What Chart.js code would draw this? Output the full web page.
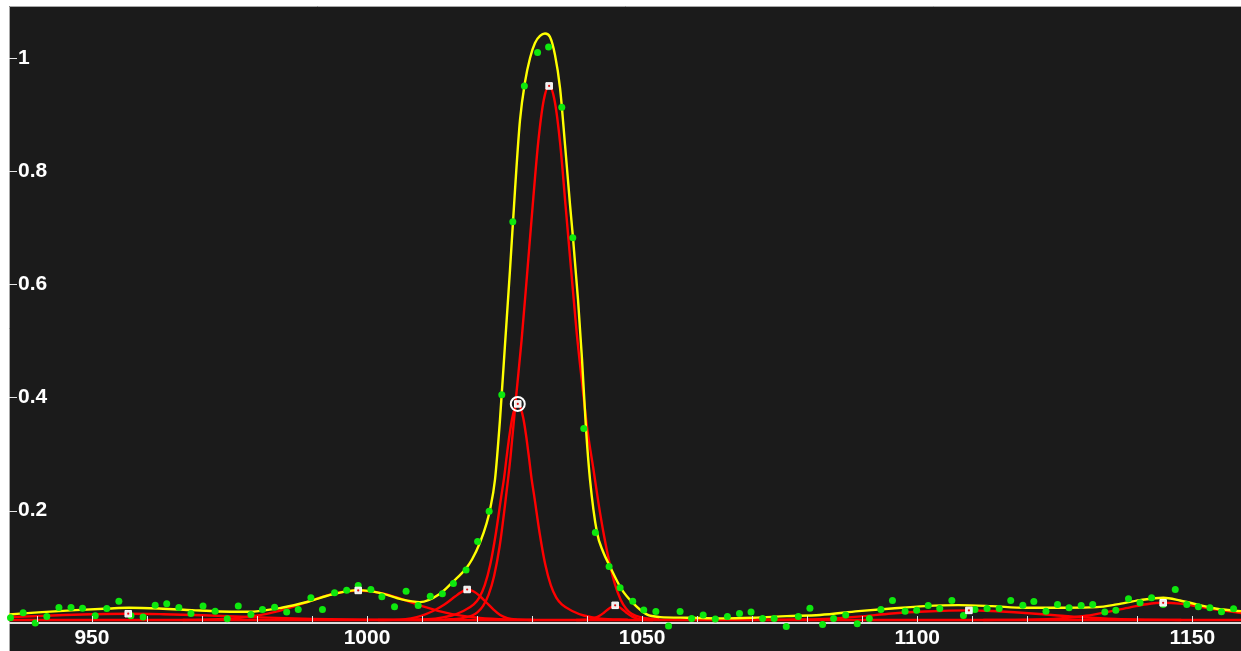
<!DOCTYPE html>
<html><head><meta charset="utf-8">
<script src="https://cdn.jsdelivr.net/npm/chart.js@4.4.1/dist/chart.umd.min.js"></script>
<style>
html,body{margin:0;padding:0;background:#fff;overflow:hidden;}
#wrap{position:relative;width:1241px;height:651px;}
</style></head><body>
<div id="wrap"><canvas id="c" width="1241" height="651"></canvas></div>
<script>
// ---- axis ticks ----
const xTickValues = [950, 1000, 1050, 1100, 1150];
const yTickValues = [0.2, 0.4, 0.6, 0.8, 1];

// ---- measured data points (green) ----
const dotX = [935.2,937.5,939.7,941.8,944.0,946.2,948.3,950.6,952.7,954.9,
957.1,959.3,961.5,963.6,965.8,968.0,970.2,972.4,974.6,976.6,
978.9,981.0,983.2,985.4,987.5,989.8,991.9,994.1,996.3,998.4,
1000.7,1002.7,1005.0,1007.1,1009.3,1011.5,1013.7,1015.7,1018.0,1020.1,
1022.2,1024.5,1026.5,1028.6,1031.0,1033.0,1035.4,1037.4,1039.4,1041.5,
1044.0,1046.0,1048.3,1050.3,1052.5,1054.8,1056.9,1059.0,1061.1,1063.3,
1065.5,1067.7,1069.8,1071.9,1074.0,1076.2,1078.4,1080.5,1082.8,1084.8,
1087.0,1089.1,1091.3,1093.4,1095.5,1097.8,1099.9,1102.0,1104.1,1106.3,
1108.4,1110.5,1112.7,1114.9,1117.0,1119.2,1121.2,1123.4,1125.5,1127.6,
1129.8,1131.9,1134.1,1136.1,1138.4,1140.5,1142.6,1144.7,1146.9,1149.0,
1151.1,1153.2,1155.3,1157.5];
const dotY = [0.0106,0.0194,0.0014,0.0129,0.0288,0.0288,0.0275,0.0141,0.0270,0.0399,
0.0141,0.0120,0.0328,0.0353,0.0288,0.0182,0.0311,0.0222,0.0090,0.0311,
0.0164,0.0253,0.0293,0.0208,0.0253,0.0459,0.0253,0.0547,0.0593,0.0676,
0.0606,0.0477,0.0300,0.0576,0.0323,0.0487,0.0530,0.0712,0.0950,0.1453,
0.1988,0.4049,0.7104,0.9506,1.0097,1.0194,0.9129,0.6821,0.3449,0.1612,
0.1012,0.0636,0.0399,0.0244,0.0217,-0.0039,0.0217,0.0094,0.0152,0.0085,
0.0129,0.0182,0.0208,0.0094,0.0094,-0.0048,0.0129,0.0275,-0.0012,0.0094,
0.0152,0.0000,0.0094,0.0253,0.0411,0.0222,0.0240,0.0323,0.0270,0.0411,
0.0147,0.0253,0.0270,0.0270,0.0411,0.0328,0.0394,0.0222,0.0341,0.0283,
0.0323,0.0341,0.0205,0.0240,0.0441,0.0371,0.0459,0.0341,0.0606,0.0341,
0.0300,0.0283,0.0212,0.0265];

// ---- total fit (yellow) ----
const fitTotal = [[934.93,0.0164],[940.93,0.0205],[947.06,0.0240],[953.11,0.0270],[956.74,0.0283],[962.2,0.0270],[968.19,0.0240],[973.1,0.0217],[978.37,0.0212],[984.5,0.0283],[989.28,0.0388],[993.58,0.0517],[998.42,0.0593],[1002.67,0.0535],[1006.31,0.0429],[1009.63,0.0381],[1013.27,0.0530],[1015.69,0.0747],[1017.99,0.0977],[1019.08,0.1135],[1020.54,0.1436],[1021.76,0.1783],[1022.36,0.2018],[1023.26,0.2548],[1024.17,0.3608],[1025.08,0.4932],[1025.99,0.6256],[1026.9,0.7669],[1027.81,0.8905],[1028.72,0.9576],[1029.63,1.0000],[1030.53,1.0265],[1031.44,1.0389],[1032.35,1.0433],[1033.26,1.0371],[1034.17,1.0053],[1035.08,0.9471],[1035.99,0.8464],[1036.9,0.7404],[1037.44,0.6821],[1038.35,0.5727],[1039.08,0.4667],[1039.8,0.3449],[1040.53,0.2548],[1041.8,0.1612],[1042.89,0.1277],[1044.16,0.1012],[1046.29,0.0606],[1048.4,0.0358],[1050.84,0.0164],[1053.25,0.0117],[1058.11,0.0106],[1064.16,0.0094],[1070.21,0.0106],[1076.28,0.0134],[1082.33,0.0155],[1089.3,0.0222],[1095.37,0.0270],[1101.42,0.0311],[1107.47,0.0328],[1113.54,0.0311],[1119.59,0.0283],[1126.55,0.0283],[1132.62,0.0293],[1136.26,0.0341],[1140.49,0.0417],[1144.73,0.0459],[1147.76,0.0411],[1150.8,0.0341],[1154.43,0.0265],[1158.85,0.0222]];

// ---- fitted components (red) ----
const baseLine = [[934.9,0.0065],[1158.9,0.0065]];
const peak957 = [[934.9,0.0117],[940,0.0135],[945,0.0153],[950,0.0167],[956.6,0.0177],[963,0.0168],[970,0.0150],[976,0.0130],[982,0.0107],[990,0.0085],[1000,0.0071],[1010,0.0066]];
const peak998 = [[966.5,0.0066],[971.5,0.0074],[976.5,0.0101],[980.5,0.0151],[983.5,0.0214],[986.5,0.0299],[989.5,0.0397],[992.5,0.0491],[995.5,0.0560],[998.4,0.0588],[1001.5,0.0560],[1004.5,0.0491],[1007.5,0.0397],[1010.5,0.0299],[1013.5,0.0214],[1016.5,0.0151],[1020.5,0.0101],[1025.5,0.0074],[1030.5,0.0066]];
const peak1018 = [[1002,0.0066],[1006,0.0072],[1008,0.0095],[1010,0.0145],[1012,0.0225],[1014,0.0335],[1016,0.0480],[1017,0.0550],[1018.2,0.0605],[1019.4,0.0570],[1020.5,0.0490],[1021.7,0.0375],[1023,0.0250],[1024.2,0.0155],[1025.5,0.0100],[1027,0.0075],[1030,0.0066]];
const peak1027 = [[1007.4,0.0070],[1012.4,0.0090],[1015.4,0.0145],[1017.4,0.0220],[1019.4,0.0340],[1020.4,0.0460],[1021.4,0.0680],[1022.4,0.1045],[1023.4,0.1585],[1024.4,0.2250],[1024.9,0.2570],[1025.4,0.2965],[1025.9,0.3335],[1026.4,0.3635],[1026.9,0.3820],[1027.4,0.3885],[1027.9,0.3820],[1028.4,0.3635],[1028.9,0.3335],[1029.4,0.2965],[1029.9,0.2570],[1030.4,0.2250],[1031.4,0.1585],[1032.4,0.1045],[1033.4,0.0680],[1034.4,0.0460],[1035.4,0.0340],[1037.4,0.0220],[1039.4,0.0145],[1042.4,0.0090],[1047.4,0.0070]];
const peak1033 = [[1014.1,0.0075],[1017.1,0.0095],[1019.1,0.0145],[1020.1,0.0205],[1021.1,0.0315],[1022.1,0.0515],[1023.1,0.0845],[1024.1,0.1365],[1025.1,0.2115],[1026.1,0.2965],[1027.1,0.4015],[1028.1,0.5015],[1029.1,0.6185],[1030.1,0.7375],[1031.1,0.8495],[1032.1,0.9245],[1033.1,0.9505],[1034.1,0.9245],[1035.1,0.8495],[1036.1,0.7375],[1037.1,0.6255],[1038.1,0.5155],[1039.1,0.4245],[1040.1,0.3395],[1041.1,0.2765],[1042.1,0.2115],[1043.1,0.1545],[1044.1,0.1065],[1045.1,0.0685],[1046.1,0.0425],[1047.1,0.0265],[1048.1,0.0175],[1050.1,0.0105],[1053.1,0.0075]];
const peak1045 = [[1038,0.0066],[1040.5,0.0075],[1042,0.0125],[1043,0.0190],[1044,0.0270],[1045.1,0.0325],[1046.2,0.0270],[1047.2,0.0190],[1048.2,0.0125],[1049.7,0.0075],[1052,0.0066]];
const peak1109 = [[1070,0.0068],[1076,0.0072],[1083.2,0.0085],[1089.3,0.0125],[1095.4,0.0180],[1101.4,0.0215],[1109.4,0.0235],[1113.5,0.0225],[1119.6,0.0190],[1125,0.0150],[1130,0.0115],[1136,0.0085],[1142,0.0072],[1148,0.0066]];
const peak1145 = [[1112,0.0066],[1120,0.0072],[1126,0.0095],[1130.7,0.0140],[1134.7,0.0210],[1138.7,0.0290],[1141.7,0.0345],[1144.7,0.0370],[1147.7,0.0355],[1150.8,0.0310],[1154.4,0.0250],[1158.9,0.0190]];

// ---- peak markers ----
const peakCenters = [956.6, 998.4, 1018.2, 1027.4, 1033.1, 1045.1, 1109.4, 1144.7];
const peakHeights = [0.0177, 0.0588, 0.0605, 0.3885, 0.9505, 0.0325, 0.0235, 0.0370];
const selectedPeak = 3;

const components = [baseLine, peak957, peak998, peak1018, peak1027, peak1033, peak1045, peak1109, peak1145];

const toPts = arr => arr.map(p => ({x: p[0], y: p[1]}));
const FONT = {family: '"Liberation Sans", Arial, sans-serif', size: 21, weight: 'bold'};
const markerPts = peakCenters.map((x, i) => ({x, y: peakHeights[i]}));

const datasets = [];
datasets.push({type: 'scatter', data: markerPts,
  pointStyle: 'circle', pointRadius: 1.1, backgroundColor: '#e01010', borderWidth: 0, order: 0});
datasets.push({type: 'scatter', data: markerPts,
  pointStyle: 'rect', pointRadius: 4.6, backgroundColor: '#eeeeee', borderColor: '#ffffff', borderWidth: 1, order: 1});
datasets.push({type: 'scatter', data: [markerPts[selectedPeak]],
  pointStyle: 'circle', pointRadius: 7, backgroundColor: 'rgba(0,0,0,0)', borderColor: '#ffffff', borderWidth: 2, order: 2});
datasets.push({type: 'scatter', data: dotX.map((x, i) => ({x, y: dotY[i]})),
  pointRadius: 3.5, backgroundColor: '#0ee80e', borderWidth: 0, clip: false, order: 3});
datasets.push({type: 'line', data: toPts(fitTotal), borderColor: '#ffff00', borderWidth: 2.4,
  pointRadius: 0, cubicInterpolationMode: 'monotone', fill: false, order: 4});
components.forEach(c => datasets.push({type: 'line', data: toPts(c), borderColor: '#ff0000', borderWidth: 2.4,
  pointRadius: 0, cubicInterpolationMode: 'monotone', fill: false, order: 5}));

const deco = {
  id: 'deco',
  beforeDraw(chart) {
    const ctx = chart.ctx;
    ctx.save();
    ctx.fillStyle = '#ffffff';
    ctx.fillRect(0, 0, chart.width, chart.height);
    ctx.fillStyle = '#1b1b1b';
    ctx.fillRect(9, 6, chart.width - 9, chart.height - 6);
    ctx.strokeStyle = '#a8a8a8';
    ctx.lineWidth = 1;
    ctx.beginPath();
    ctx.moveTo(9.5, chart.height); ctx.lineTo(9.5, 6.5); ctx.lineTo(chart.width, 6.5);
    ctx.stroke();
    ctx.restore();
  },
  beforeDatasetsDraw(chart) {
    const ctx = chart.ctx, a = chart.chartArea;
    ctx.save();
    ctx.fillStyle = '#dcdcdc';
    ctx.fillRect(a.left, a.bottom - 2, a.right - a.left, 2);
    ctx.restore();
  },
  afterDatasetsDraw(chart) {
    const ctx = chart.ctx, a = chart.chartArea;
    const xs = chart.scales.x, ys = chart.scales.y;
    ctx.save();
    ctx.strokeStyle = '#e8e8e8';
    ctx.lineWidth = 1;
    ctx.beginPath();
    for (let v = 940; v <= 1150; v += 10) {
      const px = Math.round(xs.getPixelForValue(v)) + 0.5;
      ctx.moveTo(px, a.bottom - 8); ctx.lineTo(px, a.bottom - 2);
    }
    yTickValues.forEach(v => {
      const py = Math.round(ys.getPixelForValue(v)) + 0.5;
      ctx.moveTo(a.left, py); ctx.lineTo(a.left + 8, py);
    });
    ctx.stroke();
    ctx.restore();
  }
};

const zeroPad = s => { s.paddingTop = 0; s.paddingBottom = 0; s.paddingLeft = 0; s.paddingRight = 0; };

new Chart(document.getElementById('c'), {
  data: {datasets},
  plugins: [deco],
  options: {
    responsive: false,
    animation: false,
    events: [],
    devicePixelRatio: 1,
    layout: {autoPadding: false, padding: {left: 9, top: 6, right: 0, bottom: 0}},
    plugins: {legend: {display: false}, tooltip: {enabled: false}},
    scales: {
      x: {
        type: 'linear', position: 'bottom', min: 934.93, max: 1158.85,
        grid: {display: false, drawTicks: false}, border: {display: false},
        afterBuildTicks: s => { s.ticks = xTickValues.map(v => ({value: v})); },
        afterFit: s => { s.height = 27; zeroPad(s); },
        ticks: {color: '#ffffff', font: FONT, padding: 2, maxRotation: 0, autoSkip: false, callback: v => String(v)}
      },
      y: {
        type: 'linear', position: 'left', min: -0.0005, max: 1.0918,
        grid: {display: false, drawTicks: false}, border: {display: false},
        afterBuildTicks: s => { s.ticks = yTickValues.map(v => ({value: v})); },
        afterFit: s => { s.width = 0; zeroPad(s); },
        ticks: {color: '#ffffff', font: FONT, mirror: true, padding: 9, callback: v => String(v)}
      }
    }
  }
});
</script>
</body></html>
